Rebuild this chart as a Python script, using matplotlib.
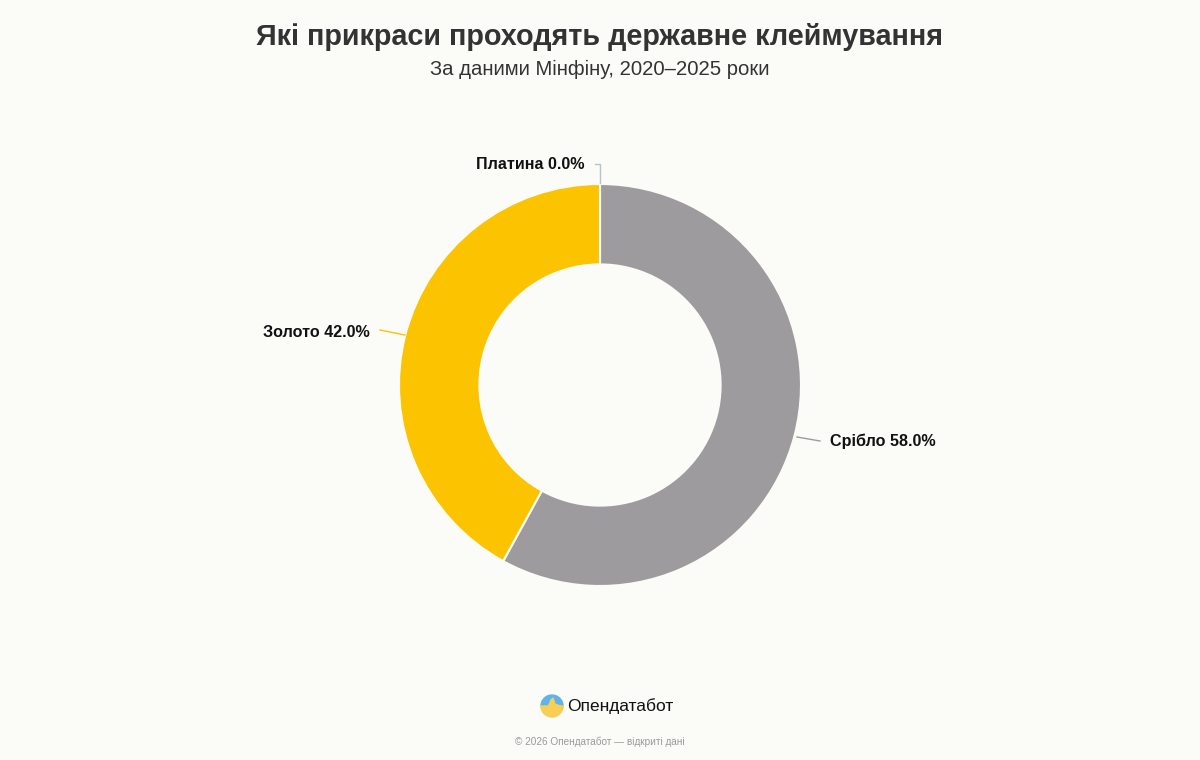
import matplotlib
matplotlib.use("Agg")
import matplotlib.pyplot as plt
from matplotlib.patches import Wedge, Circle, Polygon

categories = ["Срібло", "Золото", "Платина"]
shares = [58.0, 42.0, 0.0]
colors = ["#9d9b9e", "#fbc300", "#6c8ebf"]

title = "Які прикраси проходять державне клеймування"
subtitle = "За даними Мінфіну, 2020–2025 роки"
brand = "Опендатабот"
footer = "© 2026 Опендатабот — відкриті дані"

BG = "#fbfcf8"
plt.rcParams['font.family'] = ['Liberation Sans', 'DejaVu Sans']

W, H = 1200, 760
fig = plt.figure(figsize=(W / 100, H / 100), dpi=100, facecolor=BG)

cx, cy, R = 600, 385, 201
ax = fig.add_axes([(cx - R) / W, (H - cy - R) / H, 2 * R / W, 2 * R / H])
ax.set_facecolor(BG)
ax.axis('off')

wedges, _ = ax.pie(shares, colors=colors, startangle=90, counterclock=False,
                   radius=1.0,
                   wedgeprops=dict(width=0.4, edgecolor=BG, linewidth=1.5,
                                   joinstyle='round'))
ax.set_xlim(-1, 1)
ax.set_ylim(-1, 1)
ax.set_aspect('equal')


def px(x, y):
    return ((x - cx) / R, (cy - y) / R)


labels = [
    dict(text=f"{categories[0]} {shares[0]:.1f}%", pos=(830, 441), ha='left',
         line=[(797, 437), (820, 441)], lc="#9d9b9e"),
    dict(text=f"{categories[1]} {shares[1]:.1f}%", pos=(370, 332), ha='right',
         line=[(405, 335), (380, 330)], lc="#fbc300"),
    dict(text=f"{categories[2]} {shares[2]:.1f}%", pos=(585, 164), ha='right',
         line=[(600, 183), (600, 164), (595, 164)], lc="#b9c3cc"),
]
for lab in labels:
    xs, ys = zip(*[px(*p) for p in lab['line']])
    ax.plot(xs, ys, color=lab['lc'], lw=1.0, clip_on=False)
    tx, ty = px(*lab['pos'])
    ax.text(tx, ty, lab['text'], ha=lab['ha'], va='center', fontsize=11.6,
            fontweight='bold', color='#111111', clip_on=False)

fig.text(0.5, 1 - 37 / H, title, ha='center', va='center', fontsize=20.7,
         fontweight='bold', color='#333333')
fig.text(0.5, 1 - 69 / H, subtitle, ha='center', va='center', fontsize=14.6,
         color='#333333')

lax = fig.add_axes([0, 0, 1, 1], facecolor='none')
lax.set_xlim(0, W)
lax.set_ylim(H, 0)
lax.axis('off')
lx, ly, lr = 552, 706, 11
lax.add_patch(Wedge((lx, ly), lr, 180, 360, color="#5db3ea"))
lax.add_patch(Wedge((lx, ly), lr, 0, 180, color="#f7cf55"))
lax.add_patch(Polygon([(lx - lr, ly + 1), (lx - 4, ly + 1), (lx - 1, ly - 6),
                       (lx + 1, ly - 8), (lx + 3, ly - 2), (lx + lr, ly + 1),
                       (lx + lr, ly + 2), (lx - lr, ly + 2)],
                      closed=True, color="#f7cf55"))
lax.text(567, 706, brand, ha='left', va='center', fontsize=12.5,
         color='#111111', fontweight='medium')
lax.text(600, 742, footer, ha='center', va='center', fontsize=7.2,
         color='#9a9a9a')

fig.savefig("out.png", dpi=100, facecolor=BG)
